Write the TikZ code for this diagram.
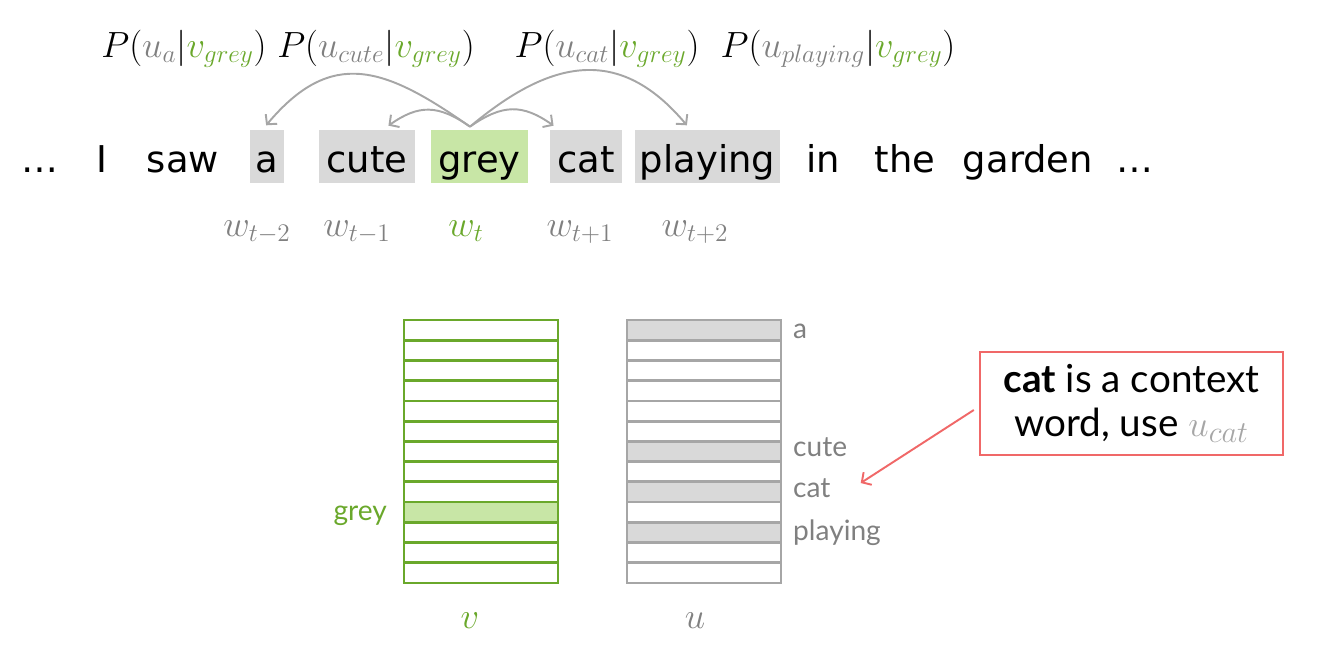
\documentclass[tikz,border=0pt]{standalone}
\usepackage{amsmath}
\usepackage{fontspec}
\setmainfont{Lato}
\newfontfamily\sentfont{DejaVu Sans}
\usetikzlibrary{arrows.meta,positioning}
\DeclareMathSizes{20}{20}{15}{12}
\DeclareMathSizes{22}{22}{17}{13}
\definecolor{wgreen}{RGB}{106,168,43}
\definecolor{wlight}{RGB}{200,230,166}
\definecolor{wbox}{RGB}{217,217,217}
\definecolor{wline}{RGB}{166,166,166}
\definecolor{wtext}{RGB}{128,128,128}
\definecolor{wred}{RGB}{240,104,104}
\newcommand{\vecstack}[4]{%
  \foreach \r in {#3}{\fill[#4] (#1,{320+\r*20.23}) rectangle ({#1+154},{320+(\r+1)*20.23});}
  \foreach \r in {1,...,12}{\draw[#2,line width=1.6pt]
    (#1,{320+\r*20.23}) -- ({#1+154},{320+\r*20.23});}
  \draw[#2,line width=1.6pt] (#1,320) rectangle ({#1+154},583);
}
\newcommand{\probterm}[1]{$P(\textcolor{wtext}{u_{#1}}|\textcolor{wgreen}{v_{grey}})$}

\begin{document}
\begin{tikzpicture}[x=0.02cm,y=-0.02cm,
    word/.style={font=\sentfont\fontsize{21}{24}\selectfont,anchor=base,
      text height=0.84cm,text depth=0.22cm,inner xsep=0pt,inner ysep=0pt},
    wordbox/.style={word,fill=wbox},
    prob/.style={font=\fontsize{20}{22}\selectfont,anchor=base},
    wlabel/.style={font=\fontsize{20}{22}\selectfont,text=wtext,anchor=base},
    rowlabel/.style={font=\fontsize{16}{18}\selectfont,text=wtext,anchor=base west},
    ctx/.style={draw=wline,line width=1.1pt,-{Straight Barb[length=1.4mm,width=3mm]},shorten >=1pt},
    note/.style={draw=wred,line width=1.4pt,align=center,minimum width=6.06cm,
      minimum height=2.06cm,font=\fontsize{22}{25}\selectfont}]
  \useasboundingbox (0,0) rectangle (1318,656);

  \node[word] (dotsl) at (40,172) {…};
  \node[word] (i) at (102,172) {I};
  \node[word] (saw) at (183,172) {saw};
  \node[wordbox,minimum width=0.68cm] (a) at (267,172) {a};
  \node[wordbox,minimum width=1.92cm] (cute) at (367,172) {cute};
  \node[wordbox,fill=wlight,minimum width=1.94cm] (grey) at (479.5,172) {grey};
  \node[wordbox,minimum width=1.44cm] (cat) at (586,172) {cat};
  \node[wordbox,minimum width=2.9cm] (playing) at (707.5,172) {playing};
  \node[word] (in) at (823,172) {in};
  \node[word] (the) at (905,172) {the};
  \node[word] (garden) at (1028,172) {garden};
  \node[word] (dotsr) at (1135,172) {…};

  \node[prob] (pa) at (184,57) {\probterm{a}};
  \node[prob] (pcute) at (376,57) {\probterm{cute}};
  \node[prob] (pcat) at (607,57) {\probterm{cat}};
  \node[prob] (pplaying) at (838,57) {\probterm{playing}};

  \node[wlabel] (wm2) at (257,236) {$w_{t-2}$};
  \node[wlabel] (wm1) at (357,236) {$w_{t-1}$};
  \node[wlabel,text=wgreen] (w0) at (466,236) {$w_{t}$};
  \node[wlabel] (wp1) at (580,236) {$w_{t+1}$};
  \node[wlabel] (wp2) at (695,236) {$w_{t+2}$};

  \coordinate (src) at ([xshift=-0.19cm,yshift=0.06cm]grey.north);
  \draw[ctx] (src) to[out=145,in=50,looseness=1.3] ([xshift=-0.04cm,yshift=0.06cm]a.north);
  \draw[ctx] (src) to[out=145,in=35,looseness=1.2] ([xshift=0.4cm,yshift=0.06cm]cute.north);
  \draw[ctx] (src) to[out=35,in=145,looseness=1.2] ([xshift=-0.62cm,yshift=0.06cm]cat.north);
  \draw[ctx] (src) to[out=40,in=130,looseness=1.25] ([xshift=-0.39cm,yshift=0.06cm]playing.north);

  \vecstack{404}{wgreen}{9}{wlight}
  \vecstack{627}{wline}{0,6,8,10}{wbox}

  \node[rowlabel,text=wgreen,anchor=base east] (greylbl) at (393,520) {grey};
  \node[rowlabel] (albl) at (787,338) {a};
  \node[rowlabel] (cutelbl) at (787,456) {cute};
  \node[rowlabel] (catlbl) at (787,497) {cat};
  \node[rowlabel] (playlbl) at (787,540) {playing};

  \node[font=\fontsize{22}{24}\selectfont,text=wgreen,anchor=base] (vlbl) at (470,628) {$v$};
  \node[font=\fontsize{22}{24}\selectfont,text=wtext,anchor=base] (ulbl) at (695,628) {$u$};

  \node[note] (callout) at (1131.5,403.5)
    {\textbf{cat} is a context\\word, use \textcolor{wline}{$u_{cat}$}};
  \coordinate (noteout) at ([xshift=-0.1cm,yshift=-0.13cm]callout.west);
  \coordinate (catpt) at ([xshift=0.48cm,yshift=0.28cm]catlbl.base east);
  \draw[draw=wred,line width=1.1pt,-{Straight Barb[length=1.4mm,width=3mm]}] (noteout) -- (catpt);
\end{tikzpicture}
\end{document}
